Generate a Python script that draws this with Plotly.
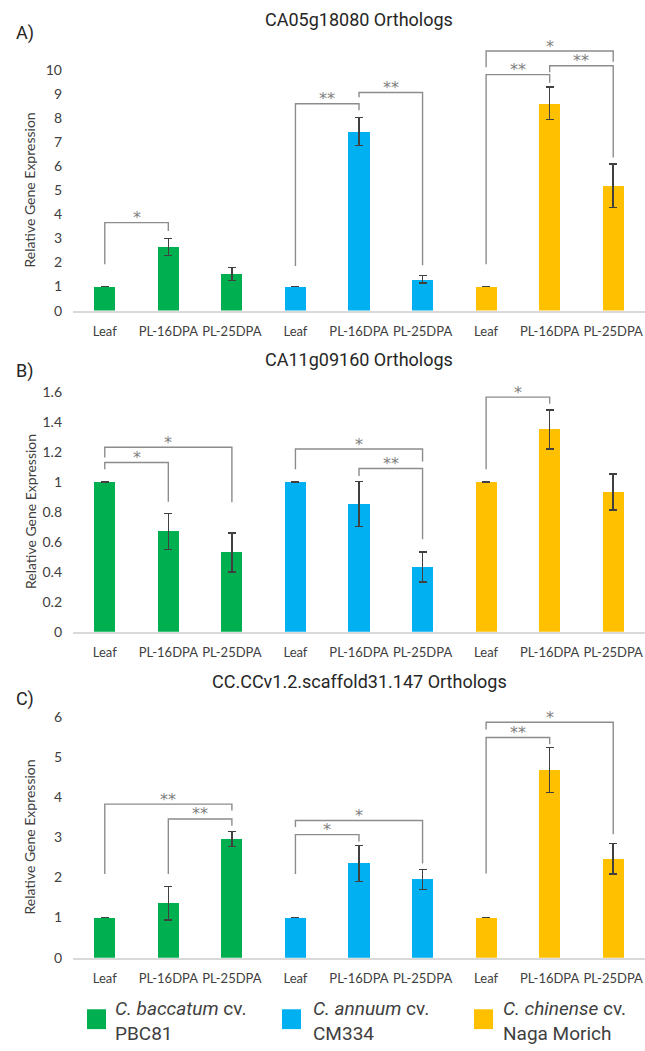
import plotly.graph_objects as go

# ---------------- data ----------------
categories = ["Leaf", "PL-16DPA", "PL-25DPA"] * 3
bar_colors = ["#00B050"] * 3 + ["#00B0F0"] * 3 + ["#FFC000"] * 3

a_title = "CA05g18080 Orthologs"
a_values = [1.00, 2.64, 1.52, 1.00, 7.43, 1.30, 1.00, 8.60, 5.18]
a_errors = [0.005, 0.35, 0.27, 0.005, 0.58, 0.16, 0.005, 0.67, 0.90]
a_ticks = [0, 1, 2, 3, 4, 5, 6, 7, 8, 9, 10]
# (left bar, right bar, bracket top, left leg bottom, right leg bottom, label)
a_brackets = [
    (0, 1, 3.65, 1.92, 3.30, "*"),
    (3, 4, 8.58, 1.85, 8.31, "**"),
    (4, 5, 9.05, 8.85, 1.88, "**"),
    (6, 7, 9.79, 1.92, 9.45, "**"),
    (7, 8, 10.16, 9.89, 6.35, "**"),
    (6, 8, 10.77, 10.10, 10.33, "*"),
]

b_title = "CA11g09160 Orthologs"
b_values = [1.00, 0.669, 0.530, 1.00, 0.852, 0.433, 1.00, 1.351, 0.934]
b_errors = [0.001, 0.12, 0.13, 0.001, 0.15, 0.10, 0.001, 0.13, 0.12]
b_ticks = [0, 0.2, 0.4, 0.6, 0.8, 1, 1.2, 1.4, 1.6]
b_brackets = [
    (0, 1, 1.130, 1.086, 0.868, "*"),
    (0, 2, 1.232, 1.163, 0.865, "*"),
    (3, 5, 1.220, 1.086, 1.137, "*"),
    (4, 5, 1.090, 1.040, 0.618, "**"),
    (6, 7, 1.567, 1.086, 1.523, "*"),
]

c_title = "CC.CCv1.2.scaffold31.147 Orthologs"
c_values = [1.00, 1.36, 2.96, 1.00, 2.35, 1.95, 1.00, 4.68, 2.47]
c_errors = [0.004, 0.42, 0.19, 0.004, 0.45, 0.25, 0.004, 0.56, 0.38]
c_ticks = [0, 1, 2, 3, 4, 5, 6]
c_brackets = [
    (0, 2, 3.83, 2.09, 3.67, "**"),
    (1, 2, 3.46, 2.09, 3.29, "**"),
    (3, 4, 3.07, 2.09, 2.90, "*"),
    (3, 5, 3.42, 3.26, 2.35, "*"),
    (6, 7, 5.49, 2.10, 5.32, "**"),
    (6, 8, 5.87, 5.69, 3.08, "*"),
]

legend_labels = ["<i>C. baccatum</i> cv.<br>PBC81",
                 "<i>C. annuum</i> cv.<br>CM334",
                 "<i>C. chinense</i> cv.<br>Naga Morich"]
legend_colors = ["#00B050", "#00B0F0", "#FFC000"]

# ---------------- layout constants ----------------
W, H = 645, 1051
TEXT = "#404040"
GRAY = "#8c8c8c"
TICKFONT = "Liberation Sans Narrow, Lato, Arial"
TITLEFONT = "Roboto"

panels = [
    dict(label="A)", title=a_title, values=a_values, errors=a_errors, ticks=a_ticks,
         brackets=a_brackets, yrange=[0, 11.2], dom=[0.7022, 0.961],
         title_y=19.5, label_y=33, ytitle_y=192),
    dict(label="B)", title=b_title, values=b_values, errors=b_errors, ticks=b_ticks,
         brackets=b_brackets, yrange=[0, 1.7], dom=[0.3942, 0.6384],
         title_y=362.5, label_y=374, ytitle_y=516),
    dict(label="C)", title=c_title, values=c_values, errors=c_errors, ticks=c_ticks,
         brackets=c_brackets, yrange=[0, 6.3], dom=[0.0818, 0.324],
         title_y=687, label_y=704, ytitle_y=844),
]

x_pos = list(range(len(categories)))
x_dom = [73 / W, 1.0]

fig = go.Figure()
annotations = []
shapes = []

for k, p in enumerate(panels, start=1):
    xa = "x" if k == 1 else f"x{k}"
    ya = "y" if k == 1 else f"y{k}"
    fig.add_trace(go.Bar(
        x=x_pos, y=p["values"], xaxis=xa, yaxis=ya, width=1 / 3,
        marker=dict(color=bar_colors, line=dict(width=0)),
        error_y=dict(type="data", array=p["errors"], visible=True,
                     color="#404040", thickness=1.5, width=4),
        showlegend=False, hoverinfo="skip"))
    for (i, j, top, lb, rb, lab) in p["brackets"]:
        fig.add_trace(go.Scatter(
            x=[x_pos[i], x_pos[i], x_pos[j], x_pos[j]], y=[lb, top, top, rb],
            xaxis=xa, yaxis=ya, mode="lines",
            line=dict(color=GRAY, width=1.4), showlegend=False, hoverinfo="skip"))
        annotations.append(dict(
            x=(x_pos[i] + x_pos[j]) / 2, y=top, xref=xa, yref=ya,
            text=lab, showarrow=False, yanchor="middle", yshift=5,
            font=dict(family="DejaVu Sans", size=16, color="#7f7f7f")))
    axis_key = "xaxis" if k == 1 else f"xaxis{k}"
    yaxis_key = "yaxis" if k == 1 else f"yaxis{k}"
    fig.update_layout(**{
        axis_key: dict(domain=x_dom, anchor=ya, range=[-0.5, 8.5],
                       tickmode="array", tickvals=x_pos, ticktext=categories,
                       showline=True, linecolor="#d9d9d9", linewidth=1.5,
                       showgrid=False, zeroline=False, ticks="",
                       ticklabelstandoff=8,
                       tickfont=dict(family=TICKFONT, size=13, color=TEXT)),
        yaxis_key: dict(domain=p["dom"], anchor=xa, range=p["yrange"],
                        tickmode="array", tickvals=p["ticks"],
                        showline=False, showgrid=False, zeroline=False, ticks="",
                        ticklabelstandoff=10,
                        tickfont=dict(family=TICKFONT, size=14, color=TEXT)),
    })
    annotations.append(dict(
        x=(x_dom[0] + x_dom[1]) / 2, y=1 - p["title_y"] / H, xref="paper", yref="paper",
        text=p["title"], showarrow=False, xanchor="center", yanchor="middle",
        font=dict(family=TITLEFONT, size=18, color="#262626")))
    annotations.append(dict(
        x=14 / W, y=1 - p["label_y"] / H, xref="paper", yref="paper",
        text=p["label"], showarrow=False, xanchor="left", yanchor="middle",
        font=dict(family=TITLEFONT, size=18, color="#262626")))
    annotations.append(dict(
        x=30 / W, y=1 - p["ytitle_y"] / H, xref="paper", yref="paper",
        text="Relative Gene Expression", showarrow=False, textangle=-90,
        xanchor="center", yanchor="middle",
        font=dict(family=TICKFONT, size=14, color=TEXT)))

# legend (custom, below panel C)
sq_x = [87, 282, 474]
txt_x = [113, 311, 501]
for sx, tx, lab, col in zip(sq_x, txt_x, legend_labels, legend_colors):
    shapes.append(dict(type="rect", xref="paper", yref="paper",
                       x0=sx / W, x1=(sx + 19) / W,
                       y0=1 - 1037 / H, y1=1 - 1017 / H,
                       fillcolor=col, line=dict(width=0)))
    annotations.append(dict(
        x=tx / W, y=1 - 1028.5 / H, xref="paper", yref="paper",
        text=lab, showarrow=False, xanchor="left", yanchor="middle", align="left",
        font=dict(family=TITLEFONT, size=19, color=TEXT)))

fig.update_layout(
    width=W, height=H,
    margin=dict(l=0, r=0, t=0, b=0),
    paper_bgcolor="white", plot_bgcolor="white",
    annotations=annotations, shapes=shapes,
    bargap=0,
)

fig.write_html("out.html")
